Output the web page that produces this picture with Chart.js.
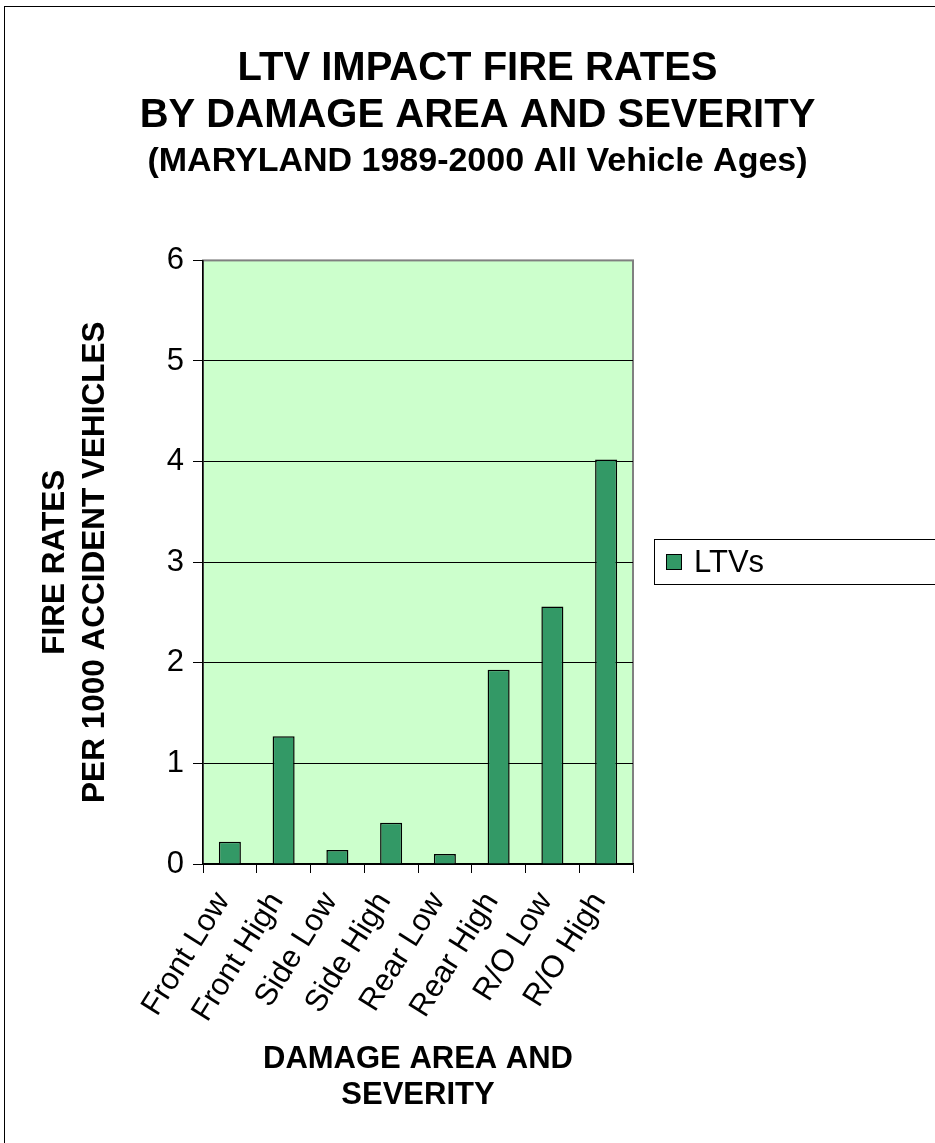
<!DOCTYPE html>
<html>
<head>
<meta charset="utf-8">
<script src="https://cdn.jsdelivr.net/npm/chart.js@4.4.1/dist/chart.umd.min.js"></script>
<style>
  html, body { margin: 0; padding: 0; background: #fff; }
  canvas { display: block; }
</style>
</head>
<body>
<canvas id="fireRates" width="935" height="1143"></canvas>
<script>
// kategorie uszkodzen i wskazniki pozarow (na 1000 pojazdow)
const categories = ["Front Low", "Front High", "Side Low", "Side High", "Rear Low", "Rear High", "R/O Low", "R/O High"];
const ltvRates = [0.22, 1.27, 0.14, 0.41, 0.10, 1.93, 2.56, 4.02];
const yTicks = [0, 1, 2, 3, 4, 5, 6];

const FONT = '"Liberation Sans", Arial, sans-serif';
Chart.defaults.color = "#000";
Chart.defaults.font.family = FONT;

// tlo wykresu, ramka i legenda rysowane recznie
const frame = {
    id: "frame",
    beforeDraw(chart) {
        const {ctx, chartArea: a} = chart;
        ctx.save();
        ctx.fillStyle = "#fff";
        ctx.fillRect(0, 0, chart.width, chart.height);
        ctx.strokeStyle = "#000";
        ctx.lineWidth = 1;
        ctx.strokeRect(4.5, 6.5, 2000, 2000);
        ctx.fillStyle = "#CCFFCC";
        ctx.fillRect(a.left, a.top, a.right - a.left, a.bottom - a.top);
        ctx.strokeStyle = "#808080";
        ctx.lineWidth = 2;
        ctx.strokeRect(a.left, a.top, a.right - a.left, a.bottom - a.top);
        ctx.restore();
    },
    afterDraw(chart) {
        const {ctx} = chart;
        const ds = chart.data.datasets[0];
        ctx.save();
        ctx.strokeStyle = "#000";
        ctx.lineWidth = 1;
        ctx.strokeRect(654.5, 539.5, 400, 45);
        ctx.fillStyle = ds.backgroundColor;
        ctx.fillRect(666, 554, 15, 15);
        ctx.strokeRect(666.5, 554.5, 15, 15);
        ctx.fillStyle = "#000";
        ctx.font = "31px " + FONT;
        ctx.textBaseline = "middle";
        ctx.fillText(ds.label, 694, 563);
        ctx.restore();
    }
};

new Chart(document.getElementById("fireRates"), {
    type: "bar",
    data: {
        labels: categories,
        datasets: [{
            label: "LTVs",
            data: ltvRates,
            backgroundColor: "#339966",
            borderColor: "#000",
            borderWidth: 1.5,
            categoryPercentage: 1,
            barPercentage: 0.41
        }]
    },
    options: {
        responsive: false,
        animation: false,
        layout: { padding: { left: 20, right: 0, top: 0, bottom: 0 } },
        plugins: {
            legend: { display: false },
            tooltip: { enabled: false },
            title: {
                display: true,
                text: ["LTV IMPACT FIRE RATES", "BY DAMAGE AREA AND SEVERITY"],
                font: { size: 40, weight: "bold", lineHeight: 1.17 },
                padding: { top: 46, bottom: 2 }
            },
            subtitle: {
                display: true,
                text: "(MARYLAND 1989-2000 All Vehicle Ages)",
                font: { size: 34, weight: "bold", lineHeight: 1.2 },
                padding: { top: 0, bottom: 78 }
            }
        },
        scales: {
            x: {
                grid: { drawOnChartArea: false, drawTicks: true, tickLength: 9, color: "#000" },
                border: { color: "#000", width: 1.5 },
                ticks: {
                    autoSkip: false,
                    minRotation: 58,
                    maxRotation: 58,
                    padding: 13,
                    labelOffset: -7,
                    font: { size: 31 }
                },
                title: {
                    display: true,
                    text: ["DAMAGE AREA AND", "SEVERITY"],
                    font: { size: 31, weight: "bold", lineHeight: 1.15 },
                    padding: { top: 0, bottom: 30 }
                },
                afterFit: s => { s.height = 279; }
            },
            y: {
                min: 0,
                max: 6,
                afterBuildTicks: s => { s.ticks = yTicks.map(v => ({value: v})); },
                grid: {
                    color: c => c.tick && c.tick.value === 6 ? "#808080" : "#000",
                    tickColor: "#000",
                    tickLength: 10,
                    lineWidth: 1
                },
                border: { color: "#000", width: 1.5 },
                ticks: { padding: 9, font: { size: 31 } },
                title: {
                    display: true,
                    text: ["FIRE RATES", "PER 1000 ACCIDENT VEHICLES"],
                    font: { size: 31.5, weight: "bold", lineHeight: 1.25 },
                    padding: { top: 16, bottom: 0 }
                },
                afterFit: s => { s.width = 183; }
            },
            // pusta os po prawej - miejsce na legende
            side: {
                position: "right",
                display: true,
                grid: { display: false },
                border: { display: false },
                ticks: { display: false },
                afterFit: s => { s.width = 302; }
            }
        }
    },
    plugins: [frame]
});
</script>
</body>
</html>
